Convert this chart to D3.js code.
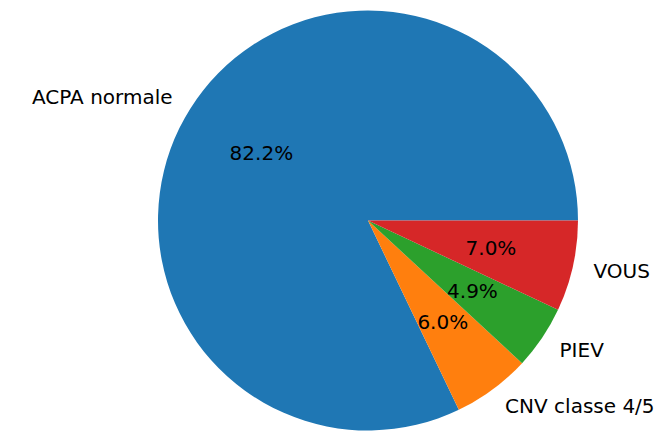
<!DOCTYPE html>
<html><head><meta charset="utf-8">
<script src="https://cdn.jsdelivr.net/npm/d3@7"></script>
<style>body{margin:0;background:#fff}svg{display:block}</style>
</head><body>
<svg id="c" width="669" height="434"></svg>
<script>
const categories = ["ACPA normale", "CNV classe 4/5", "PIEV", "VOUS"];
const values = [82.2, 6.0, 4.9, 7.0];
const colors = ["#1f77b4", "#ff7f0e", "#2ca02c", "#d62728"];

const W = 669, H = 434, cx = 368, cy = 220.5, R = 210;
const svg = d3.select("#c");
const g = svg.append("g").attr("transform", `translate(${cx},${cy})`);

// matplotlib: start at 3 o'clock, counterclockwise
const pie = d3.pie().sort(null).value(d => d).startAngle(Math.PI / 2).endAngle(Math.PI / 2 - 2 * Math.PI);
const arcs = pie(values);
const arc = d3.arc().innerRadius(0).outerRadius(R);

g.selectAll("path.slice").data(arcs).join("path")
  .attr("class", "slice")
  .attr("d", arc)
  .attr("fill", (d, i) => colors[i]);

const font = "DejaVu Sans, sans-serif";
arcs.forEach((d, i) => {
  const a = (d.startAngle + d.endAngle) / 2; // d3 angle: 0 at top, clockwise
  const ux = Math.sin(a), uy = -Math.cos(a);
  g.append("text")
    .attr("x", 1.1 * R * ux).attr("y", 1.1 * R * uy)
    .attr("text-anchor", ux >= 0 ? "start" : "end")
    .attr("dominant-baseline", "central")
    .attr("font-family", font).attr("font-size", 20).attr("fill", "#000")
    .text(categories[i]);
  g.append("text")
    .attr("x", 0.6 * R * ux).attr("y", 0.6 * R * uy)
    .attr("text-anchor", "middle")
    .attr("dominant-baseline", "central")
    .attr("font-family", font).attr("font-size", 20).attr("fill", "#000")
    .text(values[i].toFixed(1) + "%");
});
</script>
</body></html>
